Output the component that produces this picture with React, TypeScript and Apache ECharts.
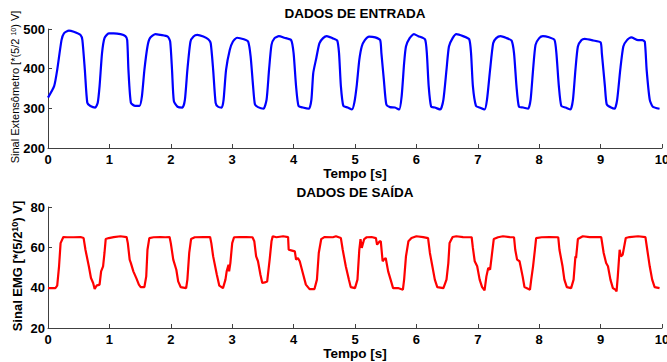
import React, { useEffect, useRef } from "react";
import * as echarts from "echarts";

const xTicks = [0, 1, 2, 3, 4, 5, 6, 7, 8, 9, 10];
const entradaTicks = [200, 300, 400, 500];
const saidaTicks = [20, 40, 60, 80];

const entrada: number[][] = [
  [0,327],[0.1,356],[0.15,397],[0.22,472],[0.26,489],[0.34,496],[0.42,493],[0.53,485],[0.56,472],[0.6,397],[0.64,314],[0.69,306],[0.77,302],[0.81,314],[0.84,356],[0.88,439],[0.92,477],[0.99,489],
  [1.07,489],[1.18,487],[1.26,482],[1.29,472],[1.31,397],[1.35,314],[1.42,306],[1.49,306],[1.53,331],[1.57,397],[1.62,456],[1.66,477],[1.75,487],[1.83,485],[1.95,481],[1.99,468],
  [2.02,397],[2.05,318],[2.11,304],[2.19,302],[2.23,322],[2.27,397],[2.32,468],[2.37,481],[2.43,485],[2.53,481],[2.61,474],[2.65,464],[2.69,397],[2.73,314],[2.77,304],[2.83,302],[2.86,322],[2.9,397],[2.96,447],
  [3.01,468],[3.08,478],[3.19,474],[3.26,468],[3.3,431],[3.34,356],[3.37,310],[3.42,303],[3.51,299],[3.56,322],[3.6,397],[3.64,460],[3.69,477],[3.76,482],[3.85,478],[3.96,472],
  [4.0,439],[4.04,356],[4.08,306],[4.15,302],[4.25,299],[4.29,322],[4.32,389],[4.37,427],[4.42,464],[4.48,477],[4.54,482],[4.63,477],[4.71,471],[4.74,439],[4.77,356],[4.81,306],[4.88,302],[4.95,297],[4.99,315],
  [5.03,360],[5.07,422],[5.11,456],[5.16,472],[5.23,481],[5.33,479],[5.41,472],[5.43,439],[5.47,372],[5.51,310],[5.57,303],[5.65,302],[5.72,297],[5.76,331],[5.8,414],[5.83,456],[5.89,477],[5.96,487],
  [6.03,482],[6.14,474],[6.17,439],[6.2,356],[6.24,304],[6.3,302],[6.39,297],[6.44,322],[6.49,397],[6.53,456],[6.59,477],[6.65,487],[6.76,482],[6.86,474],[6.89,439],[6.92,356],[6.97,306],
  [7.03,302],[7.11,297],[7.15,322],[7.2,397],[7.25,464],[7.3,477],[7.37,482],[7.47,477],[7.55,471],[7.59,439],[7.63,356],[7.67,304],[7.74,302],[7.82,299],[7.86,322],[7.9,397],[7.94,460],
  [8.0,477],[8.06,482],[8.16,479],[8.25,472],[8.28,439],[8.32,356],[8.36,306],[8.43,302],[8.51,297],[8.55,322],[8.59,397],[8.63,456],[8.69,472],[8.74,475],[8.88,471],
  [9.0,466],[9.02,439],[9.07,356],[9.1,310],[9.17,302],[9.23,299],[9.27,322],[9.32,397],[9.37,456],[9.43,472],[9.5,479],[9.61,472],[9.68,472],[9.72,468],[9.75,397],[9.8,322],[9.85,304],[9.96,299]
];

const saida: number[][] = [
  [0,39.8],[0.12,39.8],[0.15,41],[0.18,50.6],[0.205,62.1],[0.25,65.1],[0.31,65],[0.42,65],[0.53,65.1],[0.58,64.6],[0.61,58.8],[0.665,50.6],[0.7,44.8],[0.735,42.3],[0.76,39.3],[0.79,41],[0.84,41.5],[0.865,48.1],[0.897,50.6],[0.92,57.2],[0.94,64.1],[0.99,64.6],
  [1.07,65.1],[1.18,65.5],[1.28,65.1],[1.3,62.1],[1.33,53.9],[1.35,52.2],[1.39,48.1],[1.44,44.6],[1.48,41.5],[1.51,40.3],[1.57,40.3],[1.6,45.6],[1.62,58.8],[1.65,64.6],[1.72,65],[1.83,65.1],[1.91,65],[1.98,65.1],
  [2.0,62.1],[2.04,53.9],[2.09,48.9],[2.12,43.1],[2.16,40.3],[2.25,39.8],[2.27,44],[2.3,57.2],[2.33,64.1],[2.39,65],[2.53,65.1],[2.64,65.1],[2.66,62.1],[2.69,55.5],[2.75,46.4],[2.79,41],[2.85,39.8],[2.89,44],[2.91,48.1],[2.94,51.4],[2.95,48.1],[2.97,52.2],
  [3.0,62.1],[3.03,65],[3.12,65.1],[3.23,65.1],[3.33,65],[3.36,63],[3.39,55.5],[3.42,53.1],[3.46,46.4],[3.49,42.3],[3.53,42.6],[3.57,43.1],[3.61,53.9],[3.64,63],[3.66,65.5],[3.72,65],[3.83,65.5],[3.91,65.1],[3.92,58.8],[3.96,58.5],
  [4.02,58],[4.04,53.9],[4.07,54.7],[4.1,53.1],[4.15,47.3],[4.2,41.5],[4.26,39.3],[4.34,39.3],[4.38,44],[4.41,57.2],[4.45,64.1],[4.5,65.1],[4.64,65],[4.69,65.5],[4.77,64.6],[4.8,58.8],[4.85,50.6],[4.9,44],[4.93,40.3],
  [5.0,39.8],[5.04,44],[5.07,58.8],[5.09,64.1],[5.11,59.7],[5.15,64.1],[5.19,65],[5.27,65.1],[5.34,64.6],[5.36,61.3],[5.4,63],[5.42,63],[5.45,53.1],[5.47,53.9],[5.5,54.7],[5.54,48.1],[5.58,44],[5.62,39.8],[5.7,39.8],[5.78,39],[5.8,44],[5.83,55.5],[5.87,63],[5.92,64.6],
  [6.0,65.5],[6.11,65.1],[6.19,64.6],[6.22,57.2],[6.26,50.6],[6.3,44],[6.34,40.3],[6.44,39.8],[6.49,44],[6.52,52.2],[6.54,62.1],[6.59,65.1],[6.65,65.5],[6.76,65.1],[6.9,65],[6.92,59.7],[6.95,53.1],[6.99,50.6],
  [7.03,44],[7.07,40.3],[7.11,38.7],[7.14,45.6],[7.17,49.8],[7.2,48.9],[7.22,53.9],[7.26,64.1],[7.33,65],[7.41,65.5],[7.52,65.1],[7.59,65],[7.61,58.8],[7.64,53.9],[7.68,53.1],[7.73,45.6],[7.76,40.3],[7.85,39],[7.87,44],[7.9,50.6],[7.93,58.8],[7.95,64.6],
  [8.04,65],[8.17,65.1],[8.31,65],[8.33,58.8],[8.38,50.6],[8.41,44],[8.45,40.3],[8.52,39.8],[8.56,44],[8.59,55.5],[8.6,54.7],[8.63,64.1],[8.71,65.5],[8.82,65.1],
  [9.01,65.1],[9.05,57.2],[9.09,52.2],[9.12,50.6],[9.16,44],[9.2,39.8],[9.24,39],[9.26,38.2],[9.28,45.6],[9.31,58.8],[9.33,55.5],[9.36,56.4],[9.41,64.6],[9.47,65.1],[9.61,65.5],[9.73,65.1],[9.76,58.8],[9.8,50.6],[9.84,44],[9.88,40.3],[9.96,39.8]
];

const FONT = "'Liberation Sans', Arial, Helvetica, sans-serif";
const AXIS_COLOR = "#404040";

function xAxisFor(gridIndex: number) {
  return {
    type: "value",
    gridIndex,
    min: xTicks[0],
    max: xTicks[xTicks.length - 1],
    interval: 1,
    axisLine: { show: true, lineStyle: { color: AXIS_COLOR, width: 1 } },
    axisTick: { show: true, inside: true, length: 4, lineStyle: { color: AXIS_COLOR } },
    axisLabel: { show: true, margin: 5, color: "#000", fontFamily: FONT, fontWeight: "bold", fontSize: 13 },
    splitLine: { show: false },
  };
}

function yAxisFor(gridIndex: number, ticks: number[]) {
  return {
    type: "value",
    gridIndex,
    min: ticks[0],
    max: ticks[ticks.length - 1],
    interval: ticks[1] - ticks[0],
    axisLine: { show: true, lineStyle: { color: AXIS_COLOR, width: 1 } },
    axisTick: { show: true, inside: true, length: 4, lineStyle: { color: AXIS_COLOR } },
    axisLabel: { show: true, margin: 3, color: "#000", fontFamily: FONT, fontWeight: "bold", fontSize: 13 },
    splitLine: { show: false },
  };
}

function label(text: string, x: number, y: number) {
  return {
    type: "text", x, y,
    style: { text, font: `bold 13.5px ${FONT}`, fill: "#000", align: "center", verticalAlign: "middle", textAlign: "center", textVerticalAlign: "middle" },
  };
}

export default function App() {
  const ref = useRef<HTMLDivElement>(null);
  useEffect(() => {
    if (!ref.current) return;
    const chart = echarts.init(ref.current, undefined, { renderer: "svg" });
    chart.setOption({
      animation: false,
      backgroundColor: "#fff",
      grid: [
        { left: 48, right: 5, top: 29, height: 119, containLabel: false, outerBoundsMode: "none" },
        { left: 48, right: 5, top: 207, height: 121, containLabel: false, outerBoundsMode: "none" },
      ],
      xAxis: [xAxisFor(0), xAxisFor(1)],
      yAxis: [yAxisFor(0, entradaTicks), yAxisFor(1, saidaTicks)],
      series: [
        {
          type: "line",
          xAxisIndex: 0,
          yAxisIndex: 0,
          data: entrada,
          showSymbol: false,
          smooth: 0.2,
          lineStyle: { color: "#0000ff", width: 2.2 },
        },
        {
          type: "line",
          xAxisIndex: 1,
          yAxisIndex: 1,
          data: saida,
          showSymbol: false,
          lineStyle: { color: "#ff0000", width: 2.2 },
        },
      ],
      graphic: [
        label("DADOS DE ENTRADA", 355, 13),
        label("Tempo [s]", 355, 173),
        label("DADOS DE SAÍDA", 355, 192),
        label("Tempo [s]", 355, 353),
        {
          type: "text", x: 15, y: 87, rotation: Math.PI / 2,
          style: {
            text: "Sinal Extensômetro [*(5/2 {sup|10}) V]",
            font: `11px ${FONT}`, fill: "#000",
            align: "center", verticalAlign: "middle", textAlign: "center", textVerticalAlign: "middle",
            rich: { sup: { fontSize: 7, fontFamily: FONT, verticalAlign: "top", fill: "#000" } },
          },
        },
        {
          type: "text", x: 17, y: 266, rotation: Math.PI / 2,
          style: {
            text: "Sinal EMG [*(5/2{sup|10}) V]",
            font: `bold 13px ${FONT}`, fill: "#000",
            align: "center", verticalAlign: "middle", textAlign: "center", textVerticalAlign: "middle",
            rich: { sup: { fontSize: 9, fontFamily: FONT, fontWeight: "bold", verticalAlign: "top", fill: "#000" } },
          },
        },
      ],
    });
    return () => chart.dispose();
  }, []);
  return <div ref={ref} style={{ width: 667, height: 362, position: "absolute", left: 0, top: 0 }} />;
}
